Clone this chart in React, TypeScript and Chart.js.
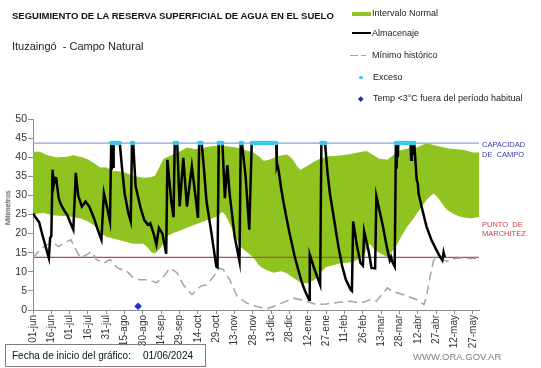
import React, { useEffect, useRef } from 'react';
import { Chart, registerables } from 'chart.js';

Chart.register(...registerables);

// ---------- DATA ----------
const xTickLabels = ['01-jun','16-jun','01-jul','16-jul','31-jul','15-ago','30-ago','14-sep','29-sep','14-oct','29-oct','13-nov','28-nov','13-dic','28-dic','12-ene','27-ene','11-feb','26-feb','13-mar','28-mar','12-abr','27-abr','12-may','27-may'];
const tickStepDays = 15;
const yTicks = [0, 5, 10, 15, 20, 25, 30, 35, 40, 45, 50];

const capacidadCampo = 43.7;
const puntoMarchitez = 13.8;

// [day since 01-jun-2024, mm]
const normalUpper: [number, number][] = [[0,41.3],[6,41.3],[10,40.6],[14,40.2],[20,39.8],[28,40.0],[33,40.4],[41,39.8],[45,39.3],[49,38.5],[55,37.2],[60,37.2],[66,36.3],[74,36.0],[82,35.0],[90,34.5],[96,34.6],[100,35.0],[104,37.5],[107,39.5],[115,40.6],[121,41.5],[126,42.4],[132,42.0],[137,42.1],[142,42.5],[148,42.8],[154,42.9],[159,42.7],[165,42.5],[170,42.1],[175,41.6],[180,41.1],[184,40.3],[189,38.9],[193,39.2],[198,39.8],[204,40.4],[208,40.6],[212,39.5],[216,37.5],[219,36.6],[224,37.5],[229,38.5],[235,39.5],[242,40.1],[251,40.3],[258,40.6],[266,41.1],[273,41.5],[278,40.5],[283,39.5],[290,39.2],[294,40.2],[298,41.5],[306,42.1],[314,42.4],[318,43.0],[322,43.5],[326,43.2],[331,42.8],[341,42.1],[352,41.8],[360,41.1],[365,41.1]];

const normalLower: [number, number][] = [[0,25.2],[4,25.4],[9,25.5],[17,24.9],[28,24.7],[39,24.1],[45,23.3],[50,22.3],[55,20.5],[60,19.3],[71,18.4],[82,17.5],[90,17.5],[94,16.5],[97,15.2],[100,14.9],[104,16.2],[107,18.0],[109,19.3],[115,20.3],[121,21.0],[131,22.3],[142,23.6],[150,24.5],[153,25.3],[155,25.8],[158,24.8],[161,22.8],[166,19.5],[170,16.6],[175,15.3],[180,14.0],[186,11.5],[191,10.6],[197,9.9],[203,10.3],[208,9.7],[214,8.3],[219,7.3],[224,7.1],[228,7.6],[232,8.4],[236,10.2],[240,11.4],[251,12.3],[262,12.7],[268,13.8],[271,14.9],[274,16.8],[276,17.5],[278,16.5],[280,15.8],[285,14.8],[290,14.0],[294,15.5],[298,17.5],[302,19.8],[306,21.9],[310,23.5],[314,25.4],[318,27.2],[322,28.9],[326,30.2],[328,30.6],[330,30.0],[333,28.9],[336,27.5],[339,26.3],[344,25.3],[350,24.5],[358,24.1],[365,24.5]];

const almacenaje: [number, number][] = [[0,25.3],[2,24.3],[5,23.0],[7,20.5],[10,17.0],[13,13.6],[14,18.8],[15,19.4],[16,36.7],[17,32.8],[18,34.6],[19,34.5],[21,29.3],[23,27.5],[26,25.8],[28,24.9],[31,22.5],[33,21.0],[35,35.9],[37,29.9],[40,27.1],[43,28.4],[46,27.1],[50,24.0],[53,21.0],[56,18.4],[58,30.6],[60,27.8],[63,23.2],[64,43.7],[64.5,36.7],[65,43.7],[65.5,37.5],[66,43.7],[71,43.7],[73,36.7],[75,30.5],[78,25.4],[80,23.2],[81,43.7],[82,43.7],[84,32.4],[88,26.8],[91,23.6],[94,22.3],[96,22.7],[99,19.7],[101,17.1],[103,21.5],[106,19.9],[109,14.7],[110,39.3],[113,28.9],[115,24.3],[116,43.7],[118,43.7],[120,27.1],[123,39.8],[126,27.1],[130,37.6],[133,29.7],[135,24.1],[136,43.7],[138,43.7],[140,36.7],[142,28.4],[146,20.2],[150,11.4],[151,11.2],[152,43.7],[155,43.7],[157,29.3],[159,37.9],[161,30.2],[165,19.3],[169,12.7],[170,43.7],[171,43.7],[174,35.0],[177,21.0],[179,43.7],[199,43.7],[199.5,37.5],[200,38.0],[201,36.5],[203,32.0],[205,28.2],[208,23.2],[210,20.0],[212,17.2],[214,14.2],[216,11.8],[218,9.5],[220,7.3],[222,5.5],[224,4.0],[226,2.7],[226.5,14.5],[230,11.0],[235,6.6],[236,43.7],[239,43.7],[241,36.0],[243,30.5],[245,26.5],[248,20.5],[250,16.5],[253,11.5],[256,8.0],[260,5.3],[261,5.0],[262,23.2],[265,17.0],[268,12.3],[270,11.6],[271,20.6],[275,14.9],[277,11.0],[280,10.9],[281,29.8],[286,22.5],[290,15.8],[292,13.0],[293,13.9],[294,12.7],[296,11.4],[297,43.7],[297.5,37.0],[298,43.7],[298.5,40.0],[299,43.7],[309,43.7],[309.5,39.3],[310,43.7],[310.5,40.5],[311,43.7],[312,43.7],[314,34.1],[315,33.0],[315.5,30.6],[318,27.1],[322,21.9],[326,18.4],[330,15.8],[333,14.0],[335,13.0],[336,15.1],[337,13.8]];

const minimoHistorico: [number, number][] = [[0,13.6],[3,14.8],[6,15.8],[11,17.1],[17,17.5],[21,16.6],[25,17.5],[31,18.4],[35,15.8],[39,13.6],[44,14.5],[48,15.3],[52,13.2],[58,12.3],[63,13.2],[69,11.0],[77,10.1],[82,8.4],[87,7.9],[95,7.9],[101,7.1],[107,8.8],[112,11.0],[118,9.7],[123,6.6],[130,4.0],[137,6.2],[142,6.6],[148,8.8],[152,11.0],[156,10.5],[161,7.9],[167,3.6],[175,1.8],[183,0.9],[191,0.3],[197,0.9],[202,1.6],[208,2.4],[213,3.1],[219,2.7],[224,2.3],[232,1.4],[240,1.6],[251,2.0],[260,2.3],[268,1.8],[276,2.7],[281,2.3],[290,5.8],[294,4.9],[303,4.0],[314,2.7],[320,1.4],[322,3.6],[325,8.8],[328,13.2],[333,13.5],[339,12.7],[344,13.4],[350,13.6],[358,13.5],[365,13.6]];

const excesoDays: number[] = [64,65,66,67,68,69,70,71,81,82,116,117,118,136,137,138,152,153,154,155,170,171,179,180,181,182,183,184,185,186,187,188,189,190,191,192,193,194,195,196,197,198,199,236,237,238,239,297,298,299,300,301,302,303,304,305,306,307,308,309,310,311,312];

const tempBajaDays: number[] = [86];
const tempBajaValues: number[] = [1.0];

const axisDays: [number, number] = [0, 365];

// ---------- COMPONENT ----------
const FONT = "'Liberation Sans', Arial, sans-serif";

const txt = (left: number, cy: number, size: number, extra: React.CSSProperties = {}): React.CSSProperties => ({
  position: 'absolute',
  left,
  top: cy - size / 2,
  fontSize: size,
  lineHeight: `${size}px`,
  whiteSpace: 'pre',
  fontFamily: FONT,
  ...extra,
});

export default function App() {
  const ref = useRef<HTMLCanvasElement>(null);

  useEffect(() => {
    const canvas = ref.current;
    if (!canvas) return;
    const toXY = (arr: [number, number][]) => arr.map(([x, y]) => ({ x, y }));
    const chart = new Chart(canvas, {
      type: 'line',
      data: {
        datasets: [
          {
            label: 'Exceso',
            data: excesoDays.map((d) => ({ x: d, y: capacidadCampo })),
            showLine: false,
            pointRadius: 2.2,
            pointBackgroundColor: '#3cc8ea',
            pointBorderWidth: 0,
            order: 0,
          },
          {
            label: 'Temp',
            data: tempBajaDays.map((d, i) => ({ x: d, y: tempBajaValues[i] })),
            showLine: false,
            pointStyle: 'rectRot',
            pointRadius: 3.8,
            pointBackgroundColor: '#1f2fd0',
            pointBorderWidth: 0,
            order: 0,
          },
          {
            label: 'Almacenaje',
            data: toXY(almacenaje),
            borderColor: '#000000',
            borderWidth: 2.5,
            pointRadius: 0,
            fill: false,
            order: 1,
          },
          {
            label: 'Mínimo histórico',
            data: toXY(minimoHistorico),
            borderColor: '#a3a3a3',
            borderWidth: 1.5,
            borderDash: [9, 5],
            pointRadius: 0,
            fill: false,
            order: 2,
          },
          {
            label: 'Capacidad',
            data: axisDays.map((d) => ({ x: d, y: capacidadCampo })),
            borderColor: '#8aa2d6',
            borderWidth: 1.2,
            pointRadius: 0,
            fill: false,
            order: 3,
          },
          {
            label: 'Marchitez',
            data: axisDays.map((d) => ({ x: d, y: puntoMarchitez })),
            borderColor: '#a85050',
            borderWidth: 1.2,
            pointRadius: 0,
            fill: false,
            order: 3,
          },
          {
            label: 'Normal inferior',
            data: toXY(normalLower),
            borderColor: '#8fc31f',
            borderWidth: 1,
            pointRadius: 0,
            fill: false,
            order: 6,
          },
          {
            label: 'Intervalo Normal',
            data: toXY(normalUpper),
            borderColor: '#8fc31f',
            backgroundColor: '#8fc31f',
            borderWidth: 1,
            pointRadius: 0,
            fill: { target: 6 },
            order: 5,
          },
        ],
      },
      options: {
        animation: false,
        responsive: false,
        maintainAspectRatio: false,
        layout: { padding: { left: 0, top: 119, right: 62, bottom: 0 } },
        elements: { line: { tension: 0 }, point: { radius: 0, hoverRadius: 0 } },
        plugins: { legend: { display: false }, tooltip: { enabled: false }, title: { display: false } },
        events: [],
        scales: {
          x: {
            type: 'linear',
            min: axisDays[0],
            max: axisDays[1],
            afterBuildTicks: (s: any) => {
              s.ticks = xTickLabels.map((_, i) => ({ value: i * tickStepDays }));
            },
            afterFit: (s: any) => {
              s.height = 58;
            },
            ticks: {
              autoSkip: false,
              minRotation: 90,
              maxRotation: 90,
              padding: 1,
              color: '#333333',
              font: { family: FONT, size: 10 },
              callback: (_v: any, i: number) => xTickLabels[i] ?? '',
            },
            grid: { display: true, drawOnChartArea: false, drawTicks: true, tickLength: 4, color: '#8c8c8c' },
            border: { display: true, color: '#8c8c8c' },
          },
          y: {
            type: 'linear',
            min: 0,
            max: 50,
            afterBuildTicks: (s: any) => {
              s.ticks = yTicks.map((v) => ({ value: v }));
            },
            afterFit: (s: any) => {
              s.width = 33;
            },
            ticks: {
              padding: 1,
              color: '#333333',
              font: { family: FONT, size: 10.5 },
            },
            grid: { display: true, drawOnChartArea: false, drawTicks: true, tickLength: 5, color: '#8c8c8c' },
            border: { display: true, color: '#8c8c8c' },
          },
        },
      } as any,
    });
    return () => chart.destroy();
  }, []);

  return (
    <div style={{ position: 'absolute', left: 0, top: 0, width: 541, height: 368, background: '#fff', overflow: 'hidden', fontFamily: FONT }}>
      <canvas ref={ref} width={541} height={368} style={{ position: 'absolute', left: 0, top: 0, width: 541, height: 368 }} />

      <div style={txt(12, 15.5, 9.5, { fontWeight: 'bold', color: '#111' })}>SEGUIMIENTO DE LA RESERVA SUPERFICIAL DE AGUA EN EL SUELO</div>
      <div style={txt(12, 46, 11, { color: '#222' })}>Ituzaingó  - Campo Natural</div>

      {/* legend */}
      <div style={{ position: 'absolute', left: 352, top: 11.5, width: 19, height: 4, background: '#8fc31f' }} />
      <div style={txt(372, 13.5, 9, { color: '#222' })}>Intervalo Normal</div>
      <div style={{ position: 'absolute', left: 352, top: 32, width: 19, height: 2, background: '#000' }} />
      <div style={txt(372, 33.5, 9, { color: '#222' })}>Almacenaje</div>
      <div style={{ position: 'absolute', left: 350, top: 54.5, width: 8, height: 1.5, background: '#a3a3a3' }} />
      <div style={{ position: 'absolute', left: 361, top: 54.5, width: 5, height: 1.5, background: '#a3a3a3' }} />
      <div style={txt(372, 55.5, 9, { color: '#222' })}>Mínimo histórico</div>
      <div style={{ position: 'absolute', left: 359, top: 75.5, width: 3.5, height: 3.5, borderRadius: '50%', background: '#3cc8ea' }} />
      <div style={txt(373, 77, 9, { color: '#222' })}>Exceso</div>
      <div style={{ position: 'absolute', left: 359, top: 96.5, width: 3.5, height: 3.5, transform: 'rotate(45deg)', background: '#1f2fa8' }} />
      <div style={txt(373, 98.5, 9, { color: '#222' })}>Temp &lt;3°C fuera del período habitual</div>

      {/* right side labels */}
      <div style={txt(482, 145, 7.5, { color: '#3838b0' })}>CAPACIDAD</div>
      <div style={txt(482, 155, 7.5, { color: '#3838b0' })}>DE  CAMPO</div>
      <div style={txt(482, 225, 7.5, { color: '#d03a3a' })}>PUNTO  DE</div>
      <div style={txt(482, 234, 7.5, { color: '#d03a3a' })}>MARCHITEZ</div>

      {/* y title */}
      <div style={{ ...txt(8 - 20, 208, 7.5, { color: '#222' }), width: 40, textAlign: 'center', transform: 'rotate(-90deg)' }}>Milímetros</div>

      {/* footer */}
      <div style={{ position: 'absolute', left: 5, top: 344, width: 199, height: 21, border: '1px solid #8c7a7a' }} />
      <div style={txt(12, 355.5, 10, { color: '#111' })}>Fecha de inicio del gráfico:</div>
      <div style={txt(143, 355.5, 10, { color: '#111' })}>01/06/2024</div>
      <div style={txt(413, 357, 9.5, { color: '#808080' })}>WWW.ORA.GOV.AR</div>
    </div>
  );
}
